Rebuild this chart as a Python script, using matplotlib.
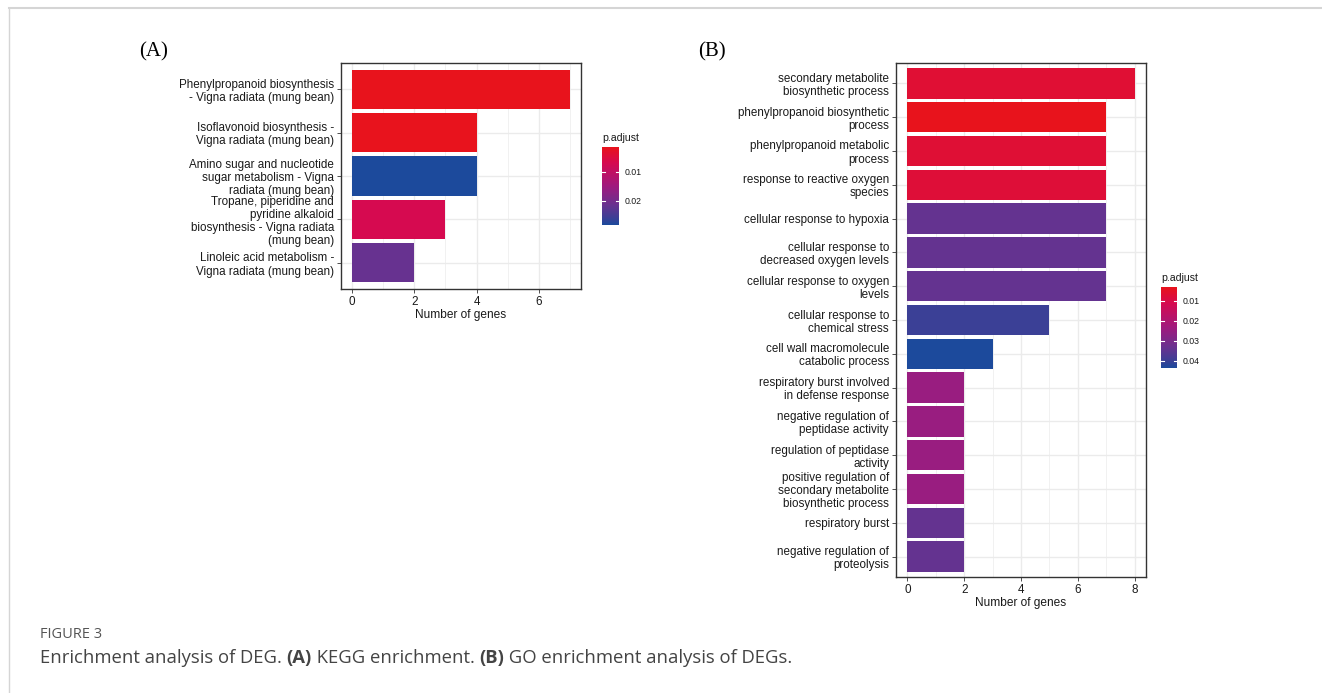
import numpy as np
import matplotlib
matplotlib.use('Agg')
import matplotlib.pyplot as plt
from matplotlib.colors import LinearSegmentedColormap, Normalize

# KEGG enrichment (panel A)
kegg_terms = [
    "Phenylpropanoid biosynthesis\n- Vigna radiata (mung bean)",
    "Isoflavonoid biosynthesis -\nVigna radiata (mung bean)",
    "Amino sugar and nucleotide\nsugar metabolism - Vigna\nradiata (mung bean)",
    "Tropane, piperidine and\npyridine alkaloid\nbiosynthesis - Vigna radiata\n(mung bean)",
    "Linoleic acid metabolism -\nVigna radiata (mung bean)",
]
kegg_counts = [7, 4, 4, 3, 2]
kegg_padj = [0.0014, 0.0016, 0.0283, 0.0068, 0.0216]
kegg_ticks = [0.01, 0.02]

# GO enrichment (panel B)
go_terms = [
    "secondary metabolite\nbiosynthetic process",
    "phenylpropanoid biosynthetic\nprocess",
    "phenylpropanoid metabolic\nprocess",
    "response to reactive oxygen\nspecies",
    "cellular response to hypoxia",
    "cellular response to\ndecreased oxygen levels",
    "cellular response to oxygen\nlevels",
    "cellular response to\nchemical stress",
    "cell wall macromolecule\ncatabolic process",
    "respiratory burst involved\nin defense response",
    "negative regulation of\npeptidase activity",
    "regulation of peptidase\nactivity",
    "positive regulation of\nsecondary metabolite\nbiosynthetic process",
    "respiratory burst",
    "negative regulation of\nproteolysis",
]
go_counts = [8, 7, 7, 7, 7, 7, 7, 5, 3, 2, 2, 2, 2, 2, 2]
go_padj = [0.0068, 0.0030, 0.0070, 0.0074, 0.0340, 0.0340, 0.0340, 0.0400,
           0.0435, 0.0245, 0.0245, 0.0245, 0.0245, 0.0340, 0.0340]
go_ticks = [0.01, 0.02, 0.03, 0.04]

# red (low p.adjust) to blue (high p.adjust)
cmap = LinearSegmentedColormap.from_list("padj", [
    (0.0, "#E8131C"), (0.2, "#D60A50"), (0.5, "#A01A7E"),
    (0.75, "#683290"), (0.9, "#403E95"), (1.0, "#1C4A9C")])

plt.rcParams['font.family'] = ['Liberation Sans', 'DejaVu Sans']
grid_col = "#EBEBEB"
frame_col = "#333333"
text_col = "#1A1A1A"

fig = plt.figure(figsize=(13.22, 6.93), dpi=100)


def enrich_bar(rect, cbar_rect, terms, counts, padj, ticks, xmax, xticks):
    ax = fig.add_axes(rect)
    vmin, vmax = min(padj), max(padj)
    norm = Normalize(vmin, vmax)
    n = len(terms)
    y = np.arange(n)[::-1] + 1
    ax.barh(y, counts, height=0.9, color=cmap(norm(np.array(padj))), zorder=3)
    pad = 0.05 * xmax
    ax.set_xlim(-pad, xmax + pad)
    ax.set_ylim(0.4, n + 0.6)
    ax.set_xticks(xticks)
    ax.set_xticks([v + 1 for v in xticks if v + 1 <= xmax + pad], minor=True)
    ax.set_yticks(y)
    ax.set_yticklabels(terms, fontsize=8.4, color=text_col, linespacing=1.12)
    ax.tick_params(axis='x', labelsize=8.4, colors=text_col, length=3,
                   width=0.6, color=frame_col, pad=2)
    ax.tick_params(axis='x', which='minor', length=0)
    ax.tick_params(axis='y', length=3, width=0.6, color=frame_col, pad=2)
    ax.grid(True, which='major', color=grid_col, lw=1.0, zorder=0)
    ax.grid(True, which='minor', axis='x', color=grid_col, lw=0.5, zorder=0)
    for s in ax.spines.values():
        s.set_color(frame_col)
        s.set_linewidth(1.0)
    ax.set_xlabel("Number of genes", fontsize=8.6, color=text_col, labelpad=1)

    # colour bar with white inner ticks
    cax = fig.add_axes(cbar_rect)
    grad = np.linspace(vmin, vmax, 200).reshape(-1, 1)
    cax.imshow(grad, aspect='auto', cmap=cmap, norm=norm,
               extent=[0, 1, vmax, vmin])
    cax.set_xlim(0, 1)
    cax.set_ylim(vmax, vmin)
    for t in ticks:
        cax.plot([0, 0.2], [t, t], color='white', lw=0.8)
        cax.plot([0.8, 1], [t, t], color='white', lw=0.8)
    cax.set_xticks([])
    cax.set_yticks(ticks)
    cax.set_yticklabels([f"{t:.2f}" for t in ticks], fontsize=6.3, color=text_col)
    cax.yaxis.tick_right()
    cax.tick_params(axis='y', length=0, pad=4)
    for s in cax.spines.values():
        s.set_visible(False)
    cax.set_title("p.adjust", fontsize=7.6, color=text_col, loc='left', pad=4)
    return ax


W, H = 1322, 693


def rect(l, t, r, b):
    return [l / W, (H - b) / H, (r - l) / W, (b - t) / H]


enrich_bar(rect(341, 63, 581, 289), rect(602, 147, 619, 225),
           kegg_terms, kegg_counts, kegg_padj, kegg_ticks, 7, [0, 2, 4, 6])
enrich_bar(rect(896, 63, 1146, 577), rect(1161, 287, 1177, 368),
           go_terms, go_counts, go_padj, go_ticks, 8, [0, 2, 4, 6, 8])

fig.text(139 / W, 1 - 52 / H, "(A)", fontsize=15, family='Liberation Serif',
         va='center', ha='left', color='black')
fig.text(698 / W, 1 - 52 / H, "(B)", fontsize=15, family='Liberation Serif',
         va='center', ha='left', color='black')

# page frame lines
fig.add_artist(plt.Line2D([9 / W, 1], [1 - 8 / H, 1 - 8 / H], color='#D5D5D5', lw=1.5))
fig.add_artist(plt.Line2D([9 / W, 9 / W], [0, 1 - 8 / H], color='#D5D5D5', lw=1.0))

# figure caption
fig.text(40 / W, 1 - 635 / H, "FIGURE 3", fontsize=10.5, family='Open Sans',
         color='#555555', va='center', ha='left')
cap_y = 1 - 658 / H
parts = [("Enrichment analysis of DEG. ", 'normal'), ("(A)", 'bold'),
         (" KEGG enrichment. ", 'normal'), ("(B)", 'bold'),
         (" GO enrichment analysis of DEGs.", 'normal')]
fig.canvas.draw()
renderer = fig.canvas.get_renderer()
x = 40 / W
for s, w in parts:
    t = fig.text(x, cap_y, s, fontsize=13.3, family='Open Sans', weight=w,
                 color='#444444', va='center', ha='left')
    bb = t.get_window_extent(renderer)
    x += bb.width / fig.bbox.width

fig.savefig("out.png", dpi=100)
